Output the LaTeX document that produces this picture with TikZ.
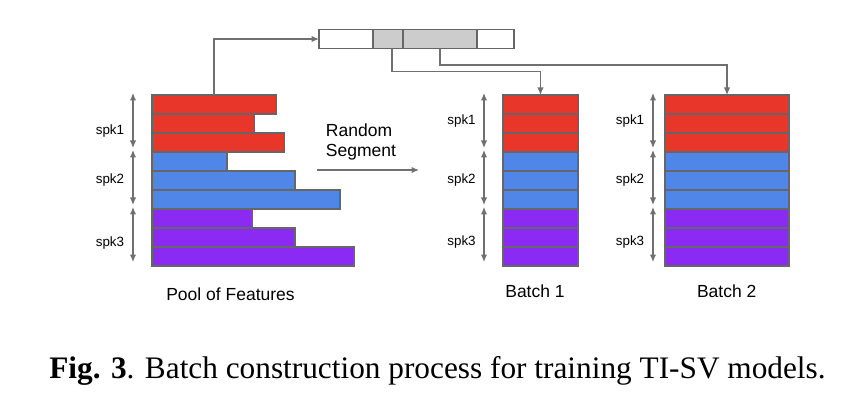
\documentclass[tikz,border=0pt]{standalone}
\usepackage{fontspec}
\setmainfont{Liberation Serif}
\newfontfamily\labelfont{Liberation Sans}
\usetikzlibrary{calc}
\usetikzlibrary{shapes,arrows.meta}
\definecolor{spkred}{HTML}{E8362A}
\definecolor{spkblue}{HTML}{4F86E8}
\definecolor{spkpurple}{HTML}{8B2AF2}
\definecolor{cellgray}{HTML}{CCCCCC}
\definecolor{edgegray}{HTML}{666666}
\definecolor{linegray}{HTML}{707070}

\begin{document}
\begin{tikzpicture}[x=1pt,y=-1pt,>={Latex[length=7.5pt,width=6.5pt]},
    bar/.style={draw=edgegray,line width=1.2pt,inner sep=0pt,outer sep=0pt,minimum height=19pt,anchor=north west},
    cell/.style={draw=edgegray,line width=1.2pt,inner sep=0pt,outer sep=0pt,minimum height=19.4pt,anchor=north west},
    link/.style={draw=linegray,line width=1.2pt,->},
    spanarrow/.style={draw=linegray,line width=1.2pt,<->},
    spk/.style={font=\labelfont\fontsize{13.4}{15}\selectfont},
    labeltext/.style={font=\labelfont\fontsize{17.5}{20}\selectfont}]
    \useasboundingbox (0,0) rectangle (862,406);
    % pool of features
    \foreach \w/\c [count=\i] in {124/spkred,102/spkred,132/spkred,75/spkblue,143/spkblue,188/spkblue,100/spkpurple,143/spkpurple,202/spkpurple}
      \node[bar,fill=\c,minimum width=\w pt] (pool\i) at (152,{95+19*(\i-1)}) {};
    % the two batches
    \foreach \c [count=\i] in {spkred,spkred,spkred,spkblue,spkblue,spkblue,spkpurple,spkpurple,spkpurple}{
      \node[bar,fill=\c,minimum width=75pt] (bone\i) at (503,{95+19*(\i-1)}) {};
      \node[bar,fill=\c,minimum width=124pt] (btwo\i) at (665,{95+19*(\i-1)}) {};
    }
    \foreach \a/\b in {1/3,4/6,7/9}{
      \draw[spanarrow] ($(pool\a.north west)+(-19,-2)$) -- ($(pool\b.south west)+(-19,-4)$);
      \draw[spanarrow] ($(bone\a.north west)+(-19,-2)$) -- ($(bone\b.south west)+(-19,-4)$);
      \draw[spanarrow] ($(btwo\a.north west)+(-12,-2)$) -- ($(btwo\b.south west)+(-12,-4)$);
    }
    \node[spk] (pspk1) at (110,131) {spk1};
    \node[spk] (pspk2) at (110,180) {spk2};
    \node[spk] (pspk3) at (110,243) {spk3};
    \node[spk] (aspk1) at (461.5,121) {spk1};
    \node[spk] (aspk2) at (461.5,180) {spk2};
    \node[spk] (aspk3) at (461.5,242) {spk3};
    \node[spk] (cspk1) at (630,121) {spk1};
    \node[spk] (cspk2) at (630,180) {spk2};
    \node[spk] (cspk3) at (630,242) {spk3};
    % segment strip
    \node[cell,minimum width=54pt] (seg1) at (319,29.3) {};
    \node[cell,fill=cellgray,minimum width=30pt] (seg2) at (seg1.north east) {};
    \node[cell,fill=cellgray,minimum width=74pt] (seg3) at (seg2.north east) {};
    \node[cell,minimum width=37pt] (seg4) at (seg3.north east) {};
    \draw[link] (pool1.north) |- (seg1.west);
    \draw[link] ($(seg2.south)+(4,0)$) -- ++(0,23) -| (bone1.north);
    \draw[link] (seg3.south) -- ++(0,16.3) -| (btwo1.north);
    % random segment
    \coordinate (rsStart) at (317,170);
    \coordinate (rsEnd) at (419,170);
    \draw[link] (rsStart) -- (rsEnd);
    \node[labeltext,align=left] (rs) at (361,141.7) {Random\\Segment};
    \node[labeltext] (poollabel) at (230.5,294) {Pool of Features};
    \node[labeltext] (bonelabel) at (535,291.7) {Batch 1};
    \node[labeltext] (btwolabel) at (726.7,291.7) {Batch 2};
    \node[anchor=base,font=\fontsize{31.3}{34}\selectfont] (caption) at (437.5,378) {\textbf{Fig. 3}. Batch construction process for training TI-SV models.};
\end{tikzpicture}
\end{document}
